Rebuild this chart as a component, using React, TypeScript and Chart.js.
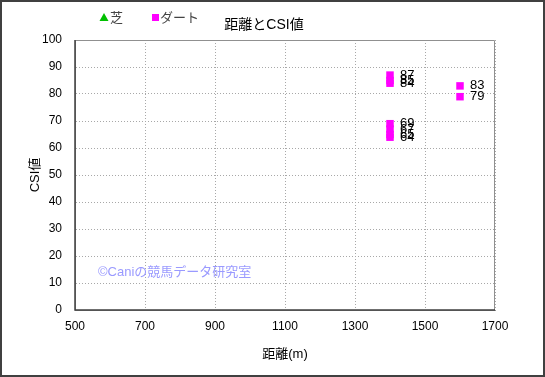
import React, { useEffect, useRef } from "react";
import { Chart, registerables } from "chart.js";

Chart.register(...registerables);

const turfDistances: number[] = [];
const turfCsi: number[] = [];
const dirtDistances = [1400, 1400, 1400, 1400, 1400, 1400, 1400, 1600, 1600];
const dirtCsi = [87, 85, 84, 69, 67, 65, 64, 83, 79];
const xTicks = [500, 700, 900, 1100, 1300, 1500, 1700];
const yTicks = [0, 10, 20, 30, 40, 50, 60, 70, 80, 90, 100];
const titleText = "距離とCSI値";
const turfLabel = "芝";
const dirtLabel = "ダート";
const xTitle = "距離(m)";
const yTitle = "CSI値";
const watermark = "©Caniの競馬データ研究室";

const FONT = "'Liberation Sans', 'Noto Sans CJK JP', sans-serif";

export default function App() {
  const ref = useRef<HTMLCanvasElement>(null);
  useEffect(() => {
    document.body.style.margin = "0";
    const canvas = ref.current!;
    const overlay = {
      id: "overlay",
      afterDraw(chart: any) {
        const ctx = chart.ctx;
        const area = chart.chartArea;
        ctx.save();
        ctx.strokeStyle = "#404040";
        ctx.lineWidth = 2;
        ctx.strokeRect(1, 1, chart.width - 2, chart.height - 2);
        ctx.strokeStyle = "#404040";
        ctx.lineWidth = 1.5;
        ctx.beginPath();
        ctx.moveTo(area.left, area.top);
        ctx.lineTo(area.left, area.bottom);
        ctx.lineTo(area.right, area.bottom);
        ctx.stroke();
        // legend
        ctx.fillStyle = "#00c000";
        ctx.beginPath();
        ctx.moveTo(104, 13);
        ctx.lineTo(108.5, 21);
        ctx.lineTo(99.5, 21);
        ctx.closePath();
        ctx.fill();
        ctx.fillStyle = "#ff00ff";
        ctx.fillRect(152, 14, 7, 7);
        ctx.fillStyle = "#444";
        ctx.font = "13px " + FONT;
        ctx.textBaseline = "middle";
        ctx.textAlign = "left";
        ctx.fillText(turfLabel, 110, 18);
        ctx.fillText(dirtLabel, 160, 18);
        // title
        ctx.fillStyle = "#000";
        ctx.font = "14px " + FONT;
        ctx.textAlign = "center";
        ctx.fillText(titleText, 264, 25);
        // watermark
        ctx.fillStyle = "#9a9aff";
        ctx.font = "13px " + FONT;
        ctx.textAlign = "left";
        ctx.fillText(watermark, 98, 272);
        // data labels
        ctx.fillStyle = "#000";
        ctx.font = "13px " + FONT;
        chart.data.datasets.forEach((ds: any, i: number) => {
          const meta = chart.getDatasetMeta(i);
          meta.data.forEach((pt: any, j: number) => {
            ctx.fillText(String(ds.data[j].y), pt.x + 10, pt.y);
          });
        });
        ctx.restore();
      },
    };
    const chart = new Chart(canvas, {
      type: "scatter",
      data: {
        datasets: [
          {
            label: turfLabel,
            data: turfDistances.map((x, i) => ({ x, y: turfCsi[i] })),
            pointStyle: "triangle",
            backgroundColor: "#00c000",
            borderColor: "#00c000",
            pointRadius: 5,
          },
          {
            label: dirtLabel,
            data: dirtDistances.map((x, i) => ({ x, y: dirtCsi[i] })),
            pointStyle: "rect",
            backgroundColor: "#ff00ff",
            borderColor: "#ff00ff",
            borderWidth: 0,
            pointRadius: 5.3,
          },
        ],
      },
      options: {
        animation: false,
        responsive: false,
        layout: { padding: { top: 40, right: 50, left: 0, bottom: 0 } },
        plugins: { legend: { display: false }, title: { display: false }, tooltip: { enabled: false } },
        scales: {
          x: {
            type: "linear",
            min: 500,
            max: 1700,
            afterFit: (s: any) => { s.height = 67; },
            afterBuildTicks: (s: any) => { s.ticks = xTicks.map((v) => ({ value: v })); },
            border: { display: true, color: "#909090", width: 1, dash: [1, 2] },
            grid: { color: "#a8a8a8", drawTicks: false },
            ticks: {
              color: "#000",
              font: { size: 12, family: FONT },
              padding: 9,
              maxRotation: 0,
              autoSkip: false,
              callback: (v: any) => String(v),
            },
            title: { display: true, text: xTitle, color: "#000", font: { size: 13, family: FONT }, padding: { top: 8, bottom: 15 } },
          },
          y: {
            min: 0,
            max: 100,
            afterFit: (s: any) => { s.width = 75; },
            afterBuildTicks: (s: any) => { s.ticks = yTicks.map((v) => ({ value: v })); },
            border: { display: true, color: "#909090", width: 1, dash: [1, 2] },
            grid: { color: "#a8a8a8", drawTicks: false },
            ticks: { color: "#000", font: { size: 12, family: FONT }, padding: 13, autoSkip: false, callback: (v: any) => String(v) },
            title: { display: true, text: yTitle, color: "#000", font: { size: 13, family: FONT }, padding: { top: 28, bottom: 0 } },
          },
        },
      } as any,
      plugins: [
        {
          id: "frame",
          beforeDatasetsDraw(chart: any) {
            const a = chart.chartArea;
            const ctx = chart.ctx;
            ctx.save();
            ctx.strokeStyle = "#909090";
            ctx.lineWidth = 1;
            ctx.beginPath();
            ctx.moveTo(a.left, a.top + 0.5);
            ctx.lineTo(a.right - 0.5, a.top + 0.5);
            ctx.lineTo(a.right - 0.5, a.bottom);
            ctx.stroke();
            ctx.restore();
          },
        },
        overlay,
      ],
    });
    return () => chart.destroy();
  }, []);
  return (
    <div style={{ position: "fixed", left: 0, top: 0, width: 545, height: 377, background: "#fff" }}>
      <canvas ref={ref} width={545} height={377} />
    </div>
  );
}
